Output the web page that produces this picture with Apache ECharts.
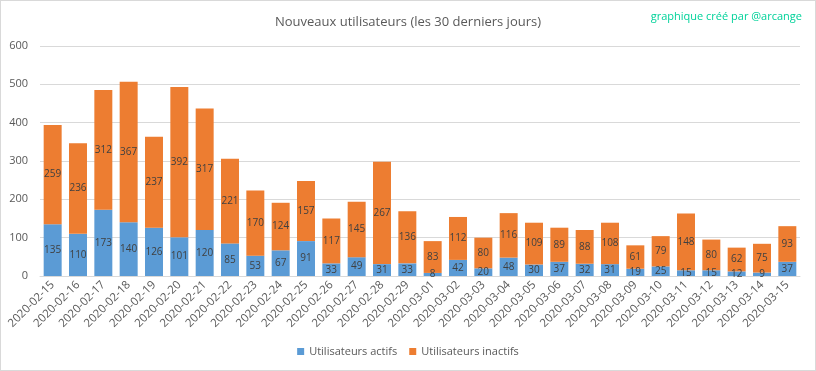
<!DOCTYPE html>
<html><head><meta charset="utf-8">
<script src="https://cdn.jsdelivr.net/npm/echarts@6/dist/echarts.min.js"></script>
<style>
html,body{margin:0;padding:0;background:#fff;}
#c{width:814px;height:369px;border:1px solid #d9d9d9;}
</style></head>
<body><div id="c"></div>
<script>
const dates = ["2020-02-15","2020-02-16","2020-02-17","2020-02-18","2020-02-19","2020-02-20","2020-02-21","2020-02-22","2020-02-23","2020-02-24","2020-02-25","2020-02-26","2020-02-27","2020-02-28","2020-02-29","2020-03-01","2020-03-02","2020-03-03","2020-03-04","2020-03-05","2020-03-06","2020-03-07","2020-03-08","2020-03-09","2020-03-10","2020-03-11","2020-03-12","2020-03-13","2020-03-14","2020-03-15"];
const actifs = [135,110,173,140,126,101,120,85,53,67,91,33,49,31,33,8,42,20,48,30,37,32,31,19,25,15,15,12,9,37];
const inactifs = [259,236,312,367,237,392,317,221,170,124,157,117,145,267,136,83,112,80,116,109,89,88,108,61,79,148,80,62,75,93];
const yTicks = [0,100,200,300,400,500,600];

const FONT = "'Open Sans', sans-serif";
const chart = echarts.init(document.getElementById('c'));
const lbl = {show:true, position:'inside', color:'#404040', fontSize:10, fontFamily:FONT};
chart.setOption({
  animation:false,
  title:[
    {text:'Nouveaux utilisateurs (les 30 derniers jours)', left:'center', top:10,
     textStyle:{color:'#595959', fontSize:13, fontWeight:'normal', fontFamily:FONT}},
    {text:'graphique créé par @arcange', right:8, top:5,
     textStyle:{color:'#00d29a', fontSize:11, fontWeight:'normal', fontFamily:FONT}}
  ],
  legend:{bottom:8, left:'center', itemWidth:7, itemHeight:7, itemGap:12, icon:'rect',
    textStyle:{color:'#595959', fontSize:11, fontFamily:FONT},
    data:['Utilisateurs actifs','Utilisateurs inactifs']},
  grid:{left:39, right:15, top:45, bottom:94},
  xAxis:{type:'category', data:dates,
    axisLine:{lineStyle:{color:'#d9d9d9'}}, axisTick:{show:false},
    axisLabel:{rotate:45, color:'#595959', fontSize:11.5, fontFamily:FONT, interval:0, margin:7}},
  yAxis:{type:'value', min:yTicks[0], max:yTicks[yTicks.length-1], interval:100,
    axisLine:{show:false}, axisTick:{show:false},
    splitLine:{lineStyle:{color:'#d9d9d9'}},
    axisLabel:{color:'#595959', fontSize:11, fontFamily:FONT, margin:12}},
  series:[
    {name:'Utilisateurs actifs', type:'bar', stack:'s', data:actifs, barCategoryGap:'29%',
     itemStyle:{color:'#5b9bd5'}, label:lbl},
    {name:'Utilisateurs inactifs', type:'bar', stack:'s', data:inactifs,
     itemStyle:{color:'#ed7d31'}, label:lbl}
  ]
});
</script></body></html>
